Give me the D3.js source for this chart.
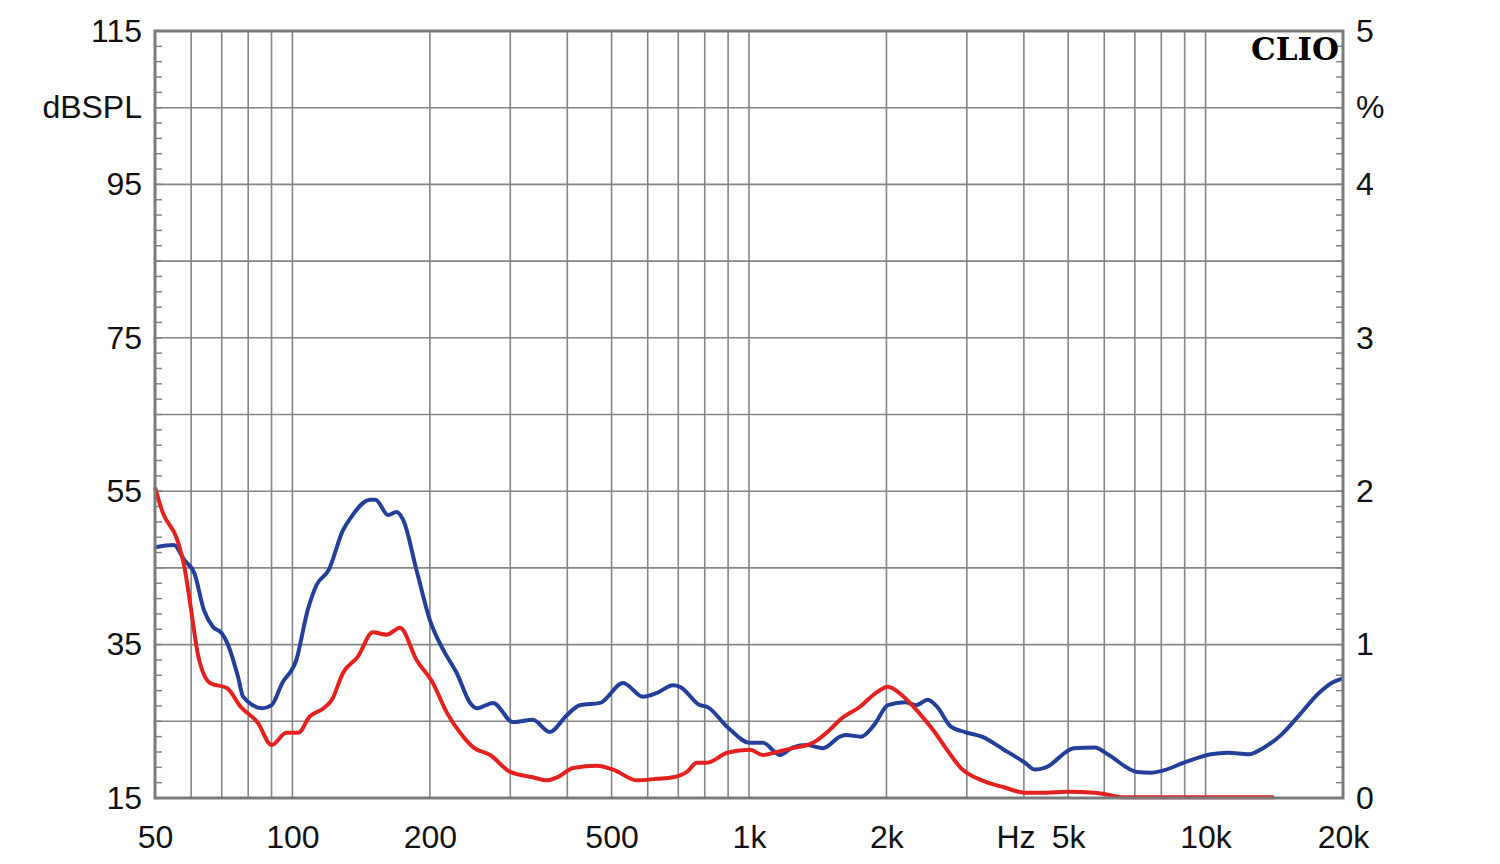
<!DOCTYPE html>
<html>
<head>
<meta charset="utf-8">
<script src="https://cdn.jsdelivr.net/npm/d3@7"></script>
<style>
  html, body { margin: 0; padding: 0; background: #fff; }
  svg { display: block; }
</style>
</head>
<body>
<div id="chart"></div>
<script>
// CLIO style response plot: SPL (left, dB) and THD (right, %) on a log frequency axis

// blue curve (dB SPL)
const blueFreq = [50, 55, 58, 61, 64, 67, 70, 72, 76, 78, 86, 90, 95, 102, 108, 113, 120, 129, 134, 148, 152,
  162, 169, 175, 187, 200, 214, 229, 245, 254, 275, 304, 336, 366, 399, 426, 472, 530, 586, 629, 682, 706,
  781, 809, 895, 1005, 1073, 1169, 1248, 1339, 1452, 1583, 1631, 1759, 1878, 2015, 2195, 2321, 2465, 2581,
  2768, 2971, 3237, 3617, 4022, 4229, 4470, 5148, 5722, 6139, 7074, 7591, 7983, 9057, 10276, 11194, 12444,
  13357, 14622, 15935, 17717, 19009, 20000];
const blueDb = [47.7, 48.0, 46.0, 44.3, 39.5, 37.3, 36.5, 35.2, 30.8, 28.2, 26.7, 27.1, 30.0, 33.0, 39.5, 42.8,
  44.7, 49.9, 51.5, 53.9, 53.9, 51.9, 52.3, 51.2, 44.7, 38.2, 34.3, 31.3, 27.4, 26.7, 27.4, 24.9, 25.2, 23.6,
  25.8, 27.1, 27.4, 30.0, 28.2, 28.7, 29.7, 29.5, 27.1, 26.9, 24.3, 22.2, 22.2, 20.6, 21.6, 21.9, 21.5, 23.0,
  23.2, 23.0, 24.5, 27.1, 27.5, 27.1, 27.8, 26.9, 24.3, 23.6, 23.0, 21.3, 19.6, 18.7, 19.0, 21.5, 21.6, 20.6,
  18.4, 18.3, 18.5, 19.7, 20.7, 20.9, 20.7, 21.5, 23.2, 25.6, 28.7, 30.1, 30.6];

// red curve (distortion, drawn against the dB scale)
const redFreq = [50, 52, 56, 58, 60, 62, 66, 72, 77, 84, 90, 97, 103, 109, 117, 122, 129, 139, 150, 161, 172,
  187, 203, 218, 233, 249, 271, 300, 336, 361, 380, 412, 465, 504, 569, 629, 682, 731, 769, 809, 895, 1005,
  1073, 1151, 1248, 1381, 1504, 1583, 1750, 1907, 2015, 2163, 2357, 2529, 2713, 2912, 3237, 3617, 4022, 4470,
  4970, 5722, 6139, 6590, 7591, 14117];
const redDb = [55.5, 52.2, 48.6, 45.1, 39.5, 33.9, 30.0, 29.3, 26.9, 24.8, 21.9, 23.5, 23.5, 25.6, 26.7, 27.8,
  31.3, 33.4, 36.6, 36.3, 37.2, 33.0, 30.0, 26.1, 23.5, 21.6, 20.6, 18.4, 17.7, 17.3, 17.7, 18.9, 19.2, 18.7,
  17.3, 17.5, 17.7, 18.4, 19.6, 19.6, 20.9, 21.3, 20.6, 21.0, 21.5, 22.2, 23.9, 25.2, 26.9, 28.8, 29.5, 28.4,
  26.1, 23.9, 21.3, 18.9, 17.3, 16.4, 15.7, 15.7, 15.8, 15.7, 15.4, 15.1, 15.1, 15.1];

const gridFreqs = [60, 70, 80, 90, 100, 200, 300, 400, 500, 600, 700, 800, 900, 1000,
  2000, 3000, 4000, 5000, 6000, 7000, 8000, 9000, 10000];
const xTickVals = [50, 100, 200, 500, 1000, 2000, 5000, 10000, 20000];
const xTickLabels = ['50', '100', '200', '500', '1k', '2k', '5k', '10k', '20k'];
const dbTicks = [15, 35, 55, 75, 95, 115];
const pctTicks = [0, 1, 2, 3, 4, 5];

const W = 1500, H = 864;
const M = { left: 155, right: 157, top: 31, bottom: 66 };
const FONT = '"Liberation Sans", Arial, sans-serif';

const svg = d3.select('#chart').append('svg')
  .attr('width', W).attr('height', H);

const x = d3.scaleLog().domain([50, 20000]).range([M.left, W - M.right]);
const y = d3.scaleLinear().domain([15, 115]).range([H - M.bottom, M.top]);
const yPct = d3.scaleLinear().domain([0, 5]).range([H - M.bottom, M.top]);

const grid = svg.append('g');

// vertical grid
grid.selectAll('line.v').data(gridFreqs).join('line')
  .attr('x1', d => x(d)).attr('x2', d => x(d))
  .attr('y1', M.top).attr('y2', H - M.bottom)
  .attr('stroke', '#858585').attr('stroke-width', 1.6);

// horizontal grid every 10 dB
grid.selectAll('line.h').data(d3.range(25, 115, 10)).join('line')
  .attr('x1', M.left).attr('x2', W - M.right)
  .attr('y1', d => y(d)).attr('y2', d => y(d))
  .attr('stroke', '#858585').attr('stroke-width', 1.6);

// small inner ticks every 2 dB on both sides
const minor = d3.range(17, 115, 2);
grid.selectAll('line.ml').data(minor).join('line')
  .attr('x1', M.left).attr('x2', M.left + 7)
  .attr('y1', d => y(d)).attr('y2', d => y(d))
  .attr('stroke', '#808080').attr('stroke-width', 1.5);
grid.selectAll('line.mr').data(minor).join('line')
  .attr('x1', W - M.right - 7).attr('x2', W - M.right)
  .attr('y1', d => y(d)).attr('y2', d => y(d))
  .attr('stroke', '#808080').attr('stroke-width', 1.5);

// curves
const line = (fs, vs) => d3.line()
  .x((d, i) => x(fs[i]))
  .y(d => y(d))
  .curve(d3.curveMonotoneX)(vs);

svg.append('path')
  .attr('d', line(blueFreq, blueDb))
  .attr('fill', 'none').attr('stroke', '#22409a').attr('stroke-width', 4)
  .attr('stroke-linejoin', 'round');

svg.append('path')
  .attr('d', line(redFreq, redDb))
  .attr('fill', 'none').attr('stroke', '#e3211f').attr('stroke-width', 4)
  .attr('stroke-linejoin', 'round');

// frame
svg.append('rect')
  .attr('x', M.left).attr('y', M.top)
  .attr('width', W - M.left - M.right).attr('height', H - M.top - M.bottom)
  .attr('fill', 'none').attr('stroke', '#7a7a7a').attr('stroke-width', 3);

// axes (labels only)
const styleAxis = g => {
  g.select('.domain').remove();
  g.selectAll('.tick line').remove();
  g.selectAll('text').attr('font-family', FONT).attr('font-size', 32).attr('fill', '#111');
};

svg.append('g')
  .attr('transform', `translate(${M.left},0)`)
  .call(d3.axisLeft(y).tickValues(dbTicks).tickSize(0).tickPadding(13))
  .call(styleAxis);

svg.append('g')
  .attr('transform', `translate(${W - M.right},0)`)
  .call(d3.axisRight(yPct).tickValues(pctTicks).tickSize(0).tickPadding(13)
    .tickFormat(d3.format('d')))
  .call(styleAxis);

svg.append('g')
  .attr('transform', `translate(0,${H - M.bottom})`)
  .call(d3.axisBottom(x).tickValues(xTickVals).tickSize(0).tickPadding(27)
    .tickFormat((d, i) => xTickLabels[i]))
  .call(styleAxis);

// unit labels
svg.append('text')
  .attr('x', 1016).attr('y', H - M.bottom + 27).attr('dy', '0.71em')
  .attr('text-anchor', 'middle')
  .attr('font-family', FONT).attr('font-size', 32).attr('fill', '#111')
  .text('Hz');

svg.append('text')
  .attr('x', M.left - 13).attr('y', y(105)).attr('dy', '0.32em')
  .attr('text-anchor', 'end')
  .attr('font-family', FONT).attr('font-size', 32).attr('fill', '#111')
  .text('dBSPL');

svg.append('text')
  .attr('x', W - M.right + 13).attr('y', y(105)).attr('dy', '0.32em')
  .attr('font-family', FONT).attr('font-size', 32).attr('fill', '#111')
  .text('%');

svg.append('text')
  .attr('x', W - M.right - 4).attr('y', 60)
  .attr('text-anchor', 'end')
  .attr('font-family', '"DejaVu Serif", serif').attr('font-weight', 'bold')
  .attr('font-size', 31).attr('fill', '#000')
  .text('CLIO');
</script>
</body>
</html>
